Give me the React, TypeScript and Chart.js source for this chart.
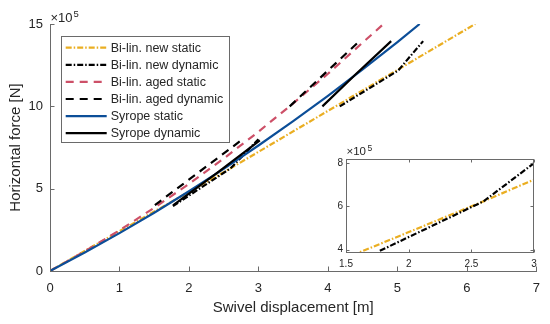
import React, { useEffect, useRef } from "react";
import { Chart, registerables } from "chart.js";

Chart.register(...registerables);

// ---- data (force in units of 1e5 N, displacement in m) ----
const newStaticX = [0, 0.45, 2.6, 6.12];
const newStaticY = [0, 1.1, 6.24, 15.0];

const newDyn1X = [1.77, 2.6, 3.0];
const newDyn1Y = [3.94, 6.24, 8.0];
const newDyn2X = [4.17, 5.01, 5.37];
const newDyn2Y = [10.0, 12.17, 13.96];

const agedStaticX = [0, 0.5, 1, 1.5, 2, 2.5, 3, 3.5, 4, 4.5, 4.8];
const agedStaticY = [0, 1.19, 2.47, 3.84, 5.29, 6.83, 8.46, 10.18, 11.98, 13.87, 15.0];

const agedDyn1X = [1.51, 2.75];
const agedDyn1Y = [4.0, 7.93];
const agedDyn2X = [3.45, 4.45];
const agedDyn2Y = [10.0, 13.95];

const syropeStaticX = [0, 0.5, 1, 1.5, 2, 2.5, 3, 3.5, 4, 4.5, 5, 5.32];
const syropeStaticY = [0, 1.12, 2.3, 3.54, 4.84, 6.2, 7.62, 9.1, 10.64, 12.24, 13.9, 15.0];

const syropeDyn1X = [1.77, 2.4, 3.02];
const syropeDyn1Y = [3.99, 5.95, 7.93];
const syropeDyn2X = [3.92, 4.4, 4.91];
const syropeDyn2Y = [10.0, 11.95, 13.96];

const X_TICKS = [0, 1, 2, 3, 4, 5, 6, 7];
const Y_TICKS = [0, 5, 10, 15];
const INSET_X_TICKS = [1.5, 2, 2.5, 3];
const INSET_Y_TICKS = [4, 6, 8];

const X_TITLE = "Swivel displacement [m]";
const Y_TITLE = "Horizontal force [N]";

// ---- styles ----
const FONT = '"Liberation Sans", Arial, Helvetica, sans-serif';
const TEXT = "#262626";
const AXIS = "#6a6a6a";
const ORANGE = "#EAAE22";
const RED = "#CD5068";
const BLUE = "#0C4E98";
const BLACK = "#000000";
const DASHDOT = [6, 2, 1.5, 2];
const DASHED = [8, 6];

type Series = {
  key: string;
  label: string;
  color: string;
  dash: number[];
  segs: [number[], number[]][];
};

const SERIES: Series[] = [
  { key: "ns", label: "Bi-lin. new static", color: ORANGE, dash: DASHDOT, segs: [[newStaticX, newStaticY]] },
  { key: "nd", label: "Bi-lin. new dynamic", color: BLACK, dash: DASHDOT, segs: [[newDyn1X, newDyn1Y], [newDyn2X, newDyn2Y]] },
  { key: "as", label: "Bi-lin. aged static", color: RED, dash: DASHED, segs: [[agedStaticX, agedStaticY]] },
  { key: "ad", label: "Bi-lin. aged dynamic", color: BLACK, dash: DASHED, segs: [[agedDyn1X, agedDyn1Y], [agedDyn2X, agedDyn2Y]] },
  { key: "ss", label: "Syrope static", color: BLUE, dash: [], segs: [[syropeStaticX, syropeStaticY]] },
  { key: "sd", label: "Syrope dynamic", color: BLACK, dash: [], segs: [[syropeDyn1X, syropeDyn1Y], [syropeDyn2X, syropeDyn2Y]] },
];

const pts = (xs: number[], ys: number[]) => xs.map((x, i) => ({ x, y: ys[i] }));

function buildDatasets(keys: string[] | null, clip: any) {
  const out: any[] = [];
  SERIES.forEach((s, si) => {
    if (keys && !keys.includes(s.key)) return;
    s.segs.forEach(([xs, ys]) => {
      out.push({
        label: s.label,
        data: pts(xs, ys),
        borderColor: s.color,
        borderDash: s.dash,
        borderWidth: 2.2,
        borderCapStyle: "butt",
        pointRadius: 0,
        fill: false,
        tension: 0,
        order: 100 - si,
        clip,
      });
    });
  });
  return out;
}

const mainDecor = {
  id: "mainDecor",
  afterDraw(chart: any) {
    const { ctx, chartArea: a, scales } = chart;
    const x = scales.x;
    const y = scales.y;
    ctx.save();
    // inward ticks
    ctx.strokeStyle = AXIS;
    ctx.lineWidth = 1;
    ctx.beginPath();
    for (const v of X_TICKS) {
      const px = Math.round(x.getPixelForValue(v)) + 0.5;
      ctx.moveTo(px, a.bottom);
      ctx.lineTo(px, a.bottom - 4.5);
    }
    for (const v of Y_TICKS) {
      const py = Math.round(y.getPixelForValue(v)) + 0.5;
      ctx.moveTo(a.left, py);
      ctx.lineTo(a.left + 4.5, py);
    }
    ctx.stroke();

    // exponent label
    ctx.fillStyle = TEXT;
    ctx.textBaseline = "alphabetic";
    ctx.textAlign = "left";
    ctx.font = `13px ${FONT}`;
    ctx.fillText("×10", 50.5, 21.5);
    ctx.font = `9.5px ${FONT}`;
    ctx.fillText("5", 73.5, 16.5);

    // legend
    const L = 61.5, T = 36.5, W = 168, H = 106;
    ctx.fillStyle = "#ffffff";
    ctx.fillRect(L, T, W, H);
    ctx.strokeStyle = AXIS;
    ctx.lineWidth = 1;
    ctx.strokeRect(L, T, W, H);
    SERIES.forEach((s, i) => {
      const yy = 47.7 + i * 17.1;
      ctx.save();
      ctx.setLineDash(s.dash);
      ctx.strokeStyle = s.color;
      ctx.lineWidth = 2.2;
      ctx.lineCap = "butt";
      ctx.beginPath();
      ctx.moveTo(65.7, yy);
      ctx.lineTo(106.7, yy);
      ctx.stroke();
      ctx.restore();
      ctx.fillStyle = TEXT;
      ctx.font = `12.5px ${FONT}`;
      ctx.textBaseline = "middle";
      ctx.fillText(s.label, 110.7, yy + 0.5);
    });
    ctx.restore();
  },
};

const insetDecor = {
  id: "insetDecor",
  beforeDraw(chart: any) {
    const { ctx, chartArea: a } = chart;
    ctx.save();
    ctx.fillStyle = "#ffffff";
    ctx.fillRect(a.left, a.top, a.right - a.left, a.bottom - a.top);
    ctx.restore();
  },
  afterDraw(chart: any) {
    const { ctx, chartArea: a, scales } = chart;
    const x = scales.x;
    const y = scales.y;
    ctx.save();
    ctx.strokeStyle = AXIS;
    ctx.lineWidth = 1;
    const l = Math.round(a.left) + 0.5;
    const r = Math.round(a.right) - 0.5;
    const t = Math.round(a.top) + 0.5;
    const b = Math.round(a.bottom) - 0.5;
    ctx.strokeRect(l, t, r - l, b - t);
    ctx.beginPath();
    for (const v of INSET_X_TICKS) {
      const px = Math.round(x.getPixelForValue(v)) + 0.5;
      ctx.moveTo(px, b);
      ctx.lineTo(px, b - 3);
      ctx.moveTo(px, t);
      ctx.lineTo(px, t + 3);
    }
    for (const v of INSET_Y_TICKS) {
      const py = Math.round(y.getPixelForValue(v)) + 0.5;
      ctx.moveTo(l, py);
      ctx.lineTo(l + 3, py);
      ctx.moveTo(r, py);
      ctx.lineTo(r - 3, py);
    }
    ctx.stroke();
    ctx.fillStyle = TEXT;
    ctx.textBaseline = "alphabetic";
    ctx.textAlign = "left";
    ctx.font = `11.5px ${FONT}`;
    ctx.fillText("×10", 21.5, 15);
    ctx.font = `8.5px ${FONT}`;
    ctx.fillText("5", 42.5, 11);
    ctx.restore();
  },
};

export default function App() {
  const mainRef = useRef<HTMLCanvasElement>(null);
  const insetRef = useRef<HTMLCanvasElement>(null);

  useEffect(() => {
    const main = new Chart(mainRef.current as HTMLCanvasElement, {
      type: "line",
      data: { datasets: buildDatasets(null, undefined) },
      options: {
        responsive: false,
        animation: false,
        devicePixelRatio: 1,
        layout: { padding: { top: 24, right: 13, left: 0, bottom: 0 } },
        plugins: { legend: { display: false }, tooltip: { enabled: false } },
        scales: {
          x: {
            type: "linear",
            min: 0,
            max: 7,
            afterBuildTicks: (s: any) => {
              s.ticks = X_TICKS.map((v) => ({ value: v }));
            },
            afterFit: (s: any) => {
              s.height = 53;
            },
            grid: { display: false, drawTicks: false },
            border: { display: true, color: AXIS, width: 1 },
            ticks: { padding: 10, color: TEXT, font: { family: FONT, size: 13 }, maxRotation: 0, autoSkip: false, callback: (v: any) => String(v) },
            title: { display: true, text: X_TITLE, color: TEXT, font: { family: FONT, size: 15 }, padding: { top: 0, bottom: 7 } },
          },
          y: {
            type: "linear",
            min: 0,
            max: 15,
            afterBuildTicks: (s: any) => {
              s.ticks = Y_TICKS.map((v) => ({ value: v }));
            },
            afterFit: (s: any) => {
              s.width = 50;
            },
            grid: { display: false, drawTicks: false },
            border: { display: true, color: AXIS, width: 1 },
            ticks: { padding: 7, color: TEXT, font: { family: FONT, size: 13 }, autoSkip: false, callback: (v: any) => String(v) },
            title: { display: true, text: Y_TITLE, color: TEXT, font: { family: FONT, size: 15 }, padding: { top: 7, bottom: 0 } },
          },
        },
      } as any,
      plugins: [mainDecor],
    });

    const inset = new Chart(insetRef.current as HTMLCanvasElement, {
      type: "line",
      data: { datasets: buildDatasets(["ns", "nd"], 0) },
      options: {
        responsive: false,
        animation: false,
        devicePixelRatio: 1,
        layout: { padding: { top: 19, right: 11, left: 0, bottom: 0 } },
        plugins: { legend: { display: false }, tooltip: { enabled: false } },
        scales: {
          x: {
            type: "linear",
            min: 1.5,
            max: 3,
            afterBuildTicks: (s: any) => {
              s.ticks = INSET_X_TICKS.map((v) => ({ value: v }));
            },
            afterFit: (s: any) => {
              s.height = 22;
            },
            grid: { display: false, drawTicks: false },
            border: { display: false },
            ticks: { padding: 5, color: TEXT, font: { family: FONT, size: 10 }, maxRotation: 0, autoSkip: false, callback: (v: any) => String(v) },
          },
          y: {
            type: "linear",
            min: 3.84,
            max: 8.19,
            afterBuildTicks: (s: any) => {
              s.ticks = INSET_Y_TICKS.map((v) => ({ value: v }));
            },
            afterFit: (s: any) => {
              s.width = 21;
            },
            grid: { display: false, drawTicks: false },
            border: { display: false },
            ticks: { padding: 3, color: TEXT, font: { family: FONT, size: 10 }, autoSkip: false, callback: (v: any) => String(v) },
          },
        },
      } as any,
      plugins: [insetDecor],
    });

    return () => {
      main.destroy();
      inset.destroy();
    };
  }, []);

  return (
    <div style={{ position: "absolute", left: 0, top: 0, width: 550, height: 324, background: "#fff" }}>
      <canvas ref={mainRef} width={550} height={324} style={{ position: "absolute", left: 0, top: 0, width: 550, height: 324 }} />
      <canvas ref={insetRef} width={220} height={135} style={{ position: "absolute", left: 325, top: 140, width: 220, height: 135 }} />
    </div>
  );
}
